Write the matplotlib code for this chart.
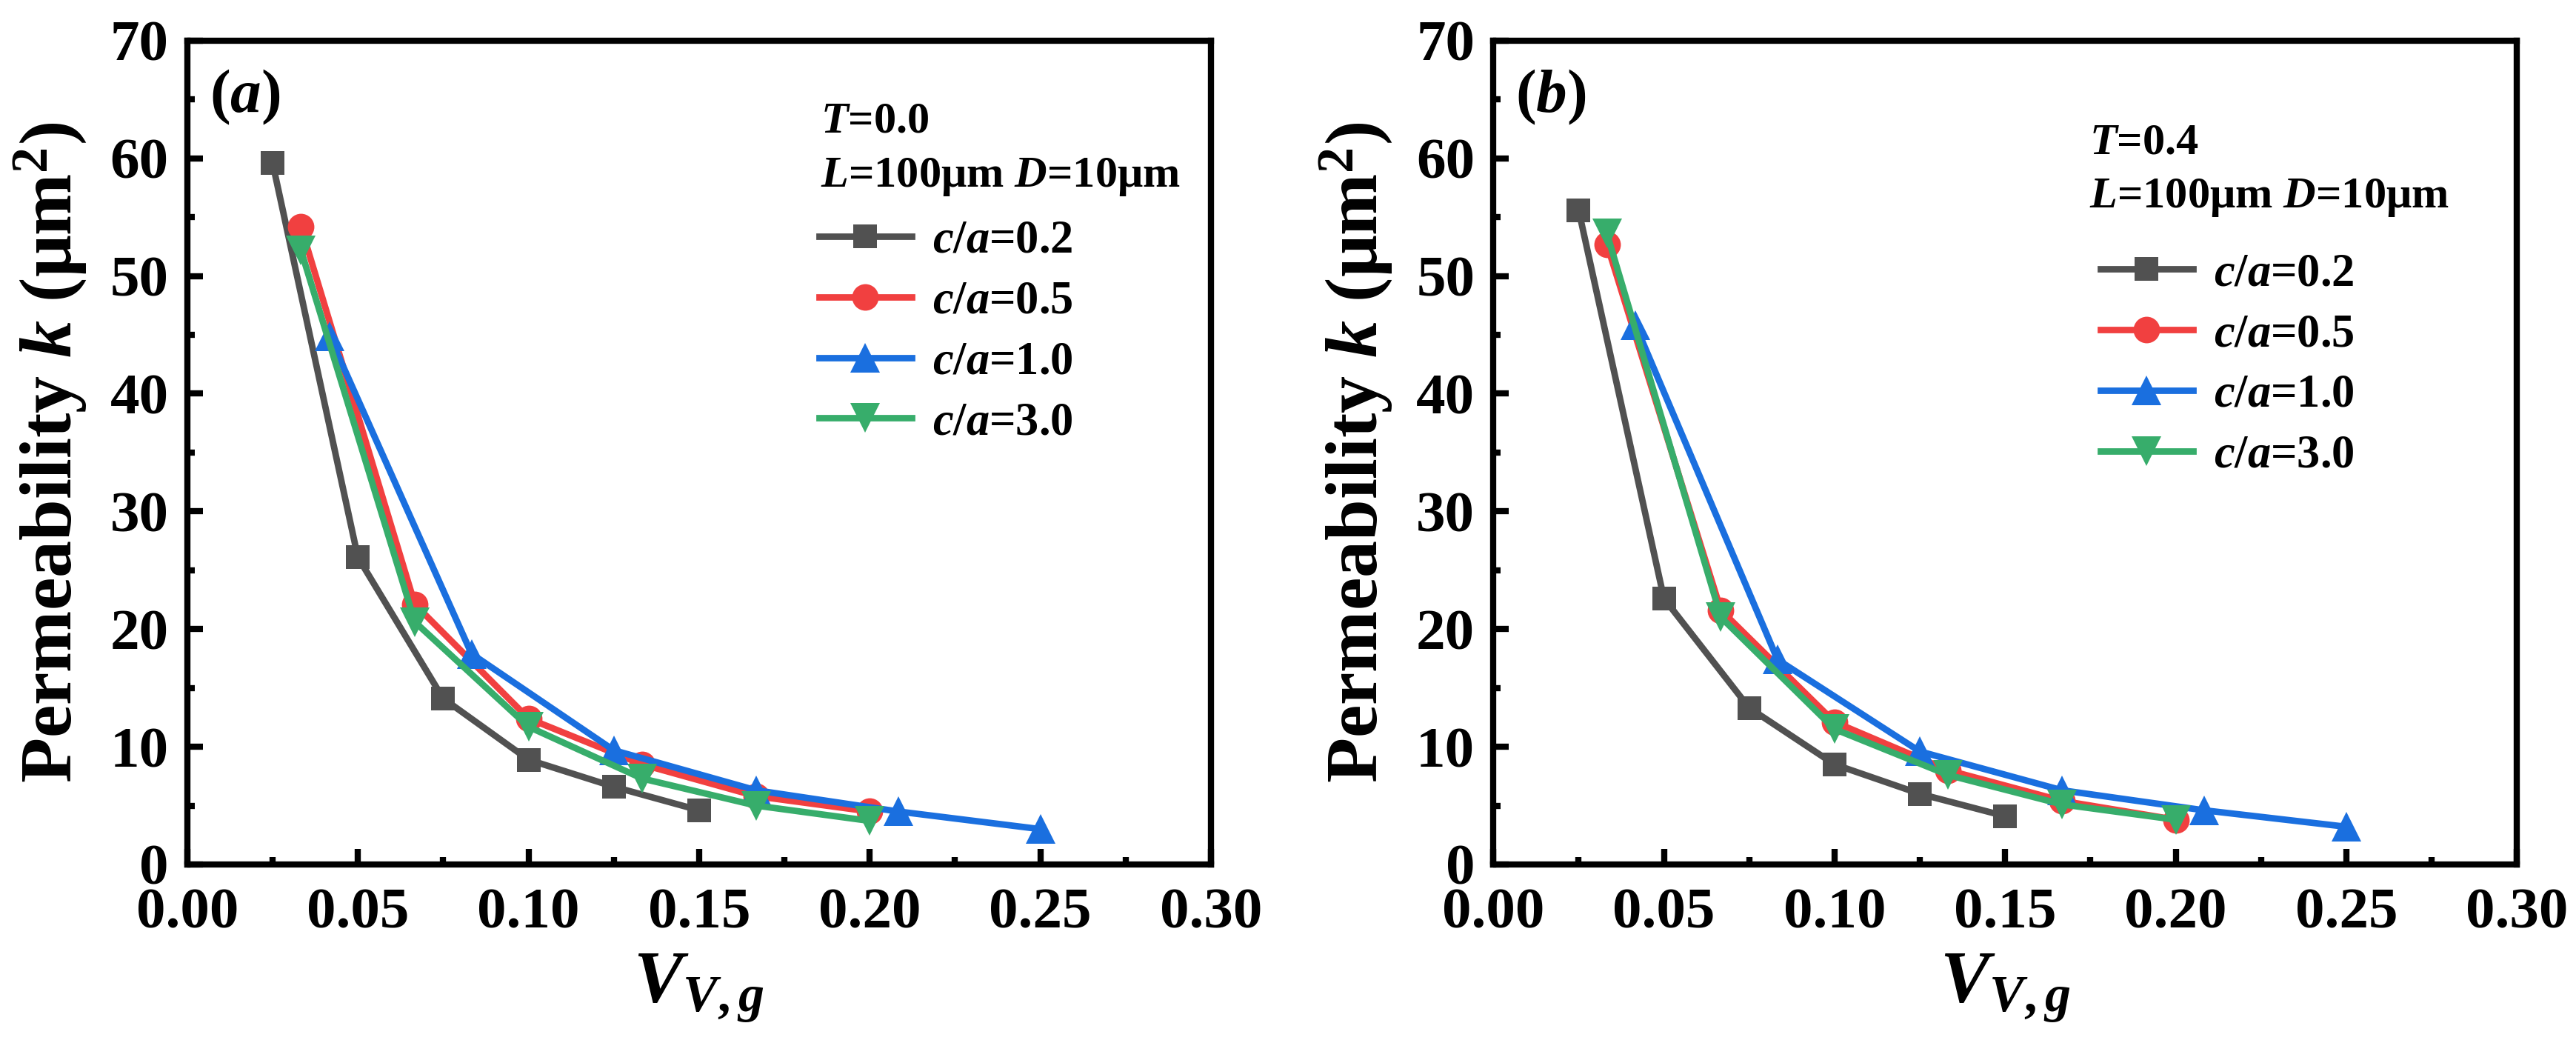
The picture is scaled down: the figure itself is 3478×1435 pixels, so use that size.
import matplotlib
matplotlib.use("Agg")
import matplotlib.pyplot as plt
from matplotlib.ticker import MultipleLocator, FormatStrFormatter


plt.rcParams.update({
    "font.family": ["Liberation Serif", "DejaVu Serif"],
    "font.weight": "bold",
    "axes.labelweight": "bold",
    "mathtext.fontset": "custom",
    "mathtext.rm": "Liberation Serif:bold",
    "mathtext.it": "Liberation Serif:italic:bold",
    "mathtext.bf": "Liberation Serif:bold",
})

# volume fraction of each series (x)
VVG_02 = [0.025, 0.05, 0.075, 0.10, 0.125, 0.15]
VVG_05 = [0.0333, 0.0667, 0.10, 0.1333, 0.1667, 0.20]
VVG_10 = [0.0417, 0.0833, 0.125, 0.1667, 0.2083, 0.25]
VVG_30 = [0.0333, 0.0667, 0.10, 0.1333, 0.1667, 0.20]

# permeability, T = 0.0
K_T0_02 = [59.6, 26.1, 14.1, 8.9, 6.6, 4.6]
K_T0_05 = [54.2, 22.1, 12.4, 8.5, 5.8, 4.5]
K_T0_10 = [44.9, 17.9, 9.7, 6.3, 4.5, 3.0]
K_T0_30 = [52.2, 20.6, 11.7, 7.3, 5.0, 3.7]

# permeability, T = 0.4
K_T4_02 = [55.6, 22.6, 13.3, 8.5, 6.0, 4.1]
K_T4_05 = [52.7, 21.6, 12.1, 8.0, 5.4, 3.8]
K_T4_10 = [45.8, 17.4, 9.6, 6.3, 4.6, 3.2]
K_T4_30 = [53.6, 21.0, 11.5, 7.6, 5.1, 3.8]

SERIES_LABELS = ["$c/a$=0.2", "$c/a$=0.5", "$c/a$=1.0", "$c/a$=3.0"]
COLORS = ["#515151", "#F14040", "#1A6FDF", "#37AD6B"]
MARKERS = ["s", "o", "^", "v"]
MSIZES = [7.5, 8.6, 9.5, 9.5]

PANELS = [
    {
        "tag": "($a$)",
        "header": ["$T$=0.0", "$L$=100μm $D$=10μm"],
        "x": [VVG_02, VVG_05, VVG_10, VVG_30],
        "y": [K_T0_02, K_T0_05, K_T0_10, K_T0_30],
    },
    {
        "tag": "($b$)",
        "header": ["$T$=0.4", "$L$=100μm $D$=10μm"],
        "x": [VVG_02, VVG_05, VVG_10, VVG_30],
        "y": [K_T4_02, K_T4_05, K_T4_10, K_T4_30],
    },
]

# layout (figure / axes fractions)
AX_RECTS = [
    [0.0727, 0.1868, 0.3974, 0.775],
    [0.5797, 0.1868, 0.3974, 0.775],
]
HEADER_POS = [
    [(0.619, 0.901), (0.619, 0.834)],
    [(0.582, 0.875), (0.582, 0.809)],
]
LEGEND_ANCHOR = [(0.617, 0.646), (0.593, 0.606)]


def style_axes(ax):
    ax.set_xlim(0, 0.30)
    ax.set_ylim(0, 70)
    ax.xaxis.set_major_locator(MultipleLocator(0.05))
    ax.xaxis.set_minor_locator(MultipleLocator(0.025))
    ax.yaxis.set_major_locator(MultipleLocator(10))
    ax.yaxis.set_minor_locator(MultipleLocator(5))
    ax.xaxis.set_major_formatter(FormatStrFormatter("%.2f"))
    ax.yaxis.set_major_formatter(FormatStrFormatter("%d"))
    ax.tick_params(which="both", direction="in", top=False, right=False,
                   width=2, labelsize=19)
    ax.tick_params(axis="y", pad=6)
    ax.tick_params(axis="x", pad=7.5)
    ax.tick_params(which="major", length=5)
    ax.tick_params(which="minor", length=2.5)
    for spine in ax.spines.values():
        spine.set_linewidth(2)


fig = plt.figure(figsize=(3478 / 300, 1435 / 300), dpi=300)

for i, panel in enumerate(PANELS):
    ax = fig.add_axes(AX_RECTS[i])
    handles = []
    for xs, ys, label, color, marker, ms in zip(panel["x"], panel["y"], SERIES_LABELS,
                                               COLORS, MARKERS, MSIZES):
        line, = ax.plot(xs, ys, color=color, marker=marker, markersize=ms,
                        linewidth=2.1, markeredgewidth=0, label=label)
        handles.append(line)

    style_axes(ax)
    ax.set_xlabel("$V_{V,g}$", fontsize=24, labelpad=4)
    ax.set_ylabel("Permeability $k$ (μm$^2$)", fontsize=24, labelpad=7)

    ax.text(0.0217, 0.931, panel["tag"], transform=ax.transAxes,
            fontsize=20, ha="left", va="center")

    for (hx, hy), txt in zip(HEADER_POS[i], panel["header"]):
        ax.text(hx, hy, txt, transform=ax.transAxes, fontsize=14.5,
                ha="left", va="center")

    ax.legend(handles=handles, loc="center left", bbox_to_anchor=LEGEND_ANCHOR[i],
              frameon=False, fontsize=15, numpoints=1, handlelength=2.0,
              handletextpad=0.45, labelspacing=0.38, borderpad=0, borderaxespad=0)

fig.savefig("out.png", dpi=300)
